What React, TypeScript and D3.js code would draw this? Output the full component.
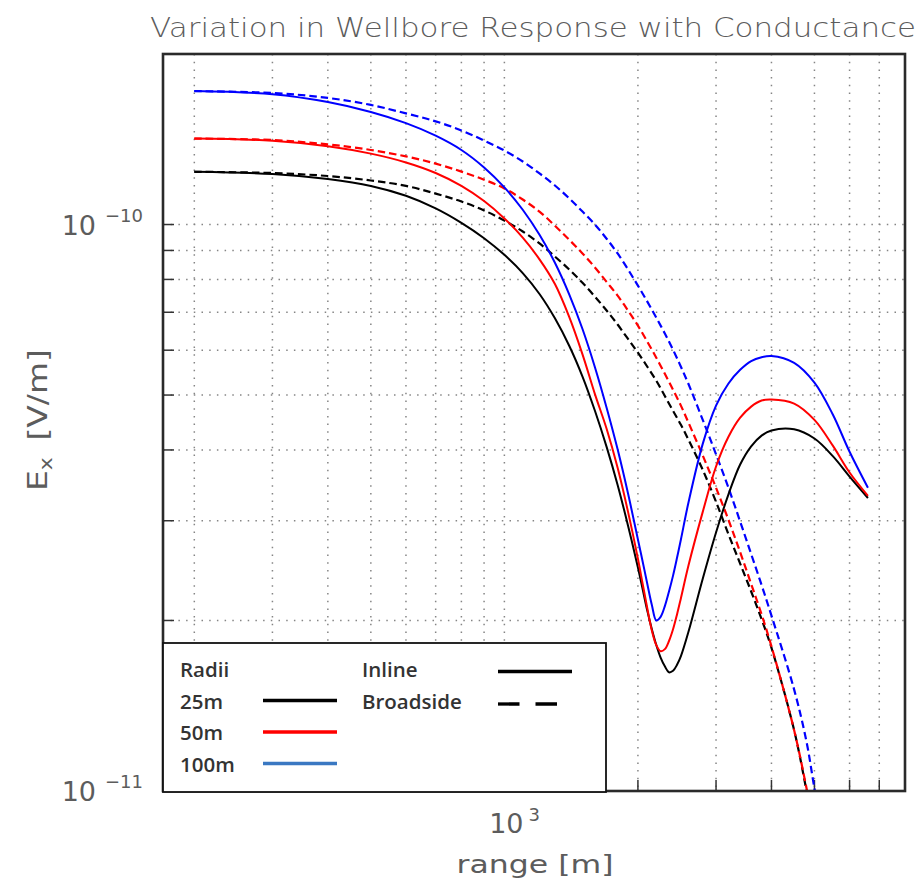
import React from 'react';
import * as d3 from 'd3';

// Source-receiver offsets (m) at which each profile is sampled
const INLINE_RANGE = [200, 300, 400, 500, 600, 700, 800, 900, 1000, 1100, 1200, 1300, 1400, 1500, 1600, 1700, 1800, 1900, 2000, 2050, 2100, 2150, 2200, 2250, 2300, 2350, 2400, 2450, 2500, 2600, 2800, 3000, 3200, 3400, 3600, 3800, 4000, 4500, 5000, 5500, 6000, 6600];
const BROADSIDE_RANGE = [200, 300, 400, 500, 600, 700, 800, 900, 1000, 1100, 1200, 1300, 1400, 1500, 1600, 1700, 1800, 1900, 2000, 2100, 2200, 2300, 2400, 2500, 2600, 2800, 3000, 3200, 3400, 3600, 3800, 4000, 4500, 4800, 5000, 5200];

// |Ex| amplitudes in units of 1e-11 V/m
const EX_UNIT = 1e-11;
const BLACK_INLINE = [12.39, 12.28, 12.03, 11.7, 11.24, 10.68, 10.07, 9.46, 8.84, 8.21, 7.54, 6.83, 6.11, 5.39, 4.69, 4.05, 3.47, 2.94, 2.48, 2.27, 2.08, 1.93, 1.81, 1.72, 1.66, 1.62, 1.63, 1.67, 1.73, 1.91, 2.37, 2.86, 3.34, 3.77, 4.06, 4.24, 4.33, 4.35, 4.19, 3.9, 3.59, 3.29];
const RED_INLINE = [14.18, 14.06, 13.75, 13.34, 12.87, 12.33, 11.7, 11.0, 10.25, 9.48, 8.68, 7.85, 6.87, 5.9, 5.02, 4.36, 3.72, 3.11, 2.57, 2.32, 2.1, 1.92, 1.81, 1.765, 1.78, 1.84, 1.93, 2.05, 2.19, 2.5, 3.11, 3.74, 4.22, 4.56, 4.77, 4.89, 4.91, 4.83, 4.52, 4.07, 3.65, 3.32];
const BLUE_INLINE = [17.2, 16.98, 16.45, 15.8, 15.1, 14.35, 13.54, 12.61, 11.63, 10.62, 9.59, 8.56, 7.53, 6.54, 5.6, 4.75, 4.01, 3.35, 2.78, 2.54, 2.32, 2.13, 2.0, 2.03, 2.12, 2.25, 2.4, 2.58, 2.78, 3.23, 4.1, 4.79, 5.24, 5.54, 5.74, 5.83, 5.86, 5.7, 5.26, 4.62, 3.97, 3.43];
const BLACK_BROADSIDE = [12.39, 12.33, 12.18, 11.96, 11.7, 11.34, 10.98, 10.59, 10.16, 9.72, 9.26, 8.78, 8.33, 7.89, 7.46, 7.05, 6.66, 6.28, 5.94, 5.61, 5.3, 4.98, 4.69, 4.43, 4.17, 3.69, 3.24, 2.84, 2.52, 2.25, 2.01, 1.79, 1.28, 1.0, 0.846, 0.719];
const RED_BROADSIDE = [14.18, 14.1, 13.85, 13.54, 13.19, 12.81, 12.4, 12.0, 11.58, 11.07, 10.54, 9.95, 9.4, 8.89, 8.4, 7.92, 7.49, 7.05, 6.63, 6.21, 5.82, 5.45, 5.11, 4.79, 4.47, 3.91, 3.43, 3.01, 2.64, 2.32, 2.05, 1.8, 1.28, 1.01, 0.854, 0.725];
const BLUE_BROADSIDE = [17.2, 17.07, 16.73, 16.26, 15.71, 15.21, 14.66, 14.07, 13.51, 12.92, 12.31, 11.72, 11.12, 10.54, 10.0, 9.44, 8.89, 8.33, 7.8, 7.31, 6.85, 6.42, 6.01, 5.61, 5.23, 4.52, 3.93, 3.43, 2.99, 2.62, 2.31, 2.04, 1.51, 1.22, 1.01, 0.854];

// Axes
const X_DOMAIN = [170, 8000];
const Y_DOMAIN = [1e-11, 2e-10];
const X_GRID = [200, 300, 400, 500, 600, 700, 800, 900, 1000, 2000, 3000, 4000, 5000, 6000, 7000];
const Y_GRID = [2e-11, 3e-11, 4e-11, 5e-11, 6e-11, 7e-11, 8e-11, 9e-11, 1e-10];
const X_TICK_LABELS = [{ value: 1000, base: '10', exp: '3' }];
const Y_TICK_LABELS = [
  { value: 1e-10, base: '10', exp: '\u221210' },
  { value: 1e-11, base: '10', exp: '\u221211' },
];

// Legend
const RADII = ['25m', '50m', '100m'];
const RADII_PLOT_COLORS = ['#000000', '#ff0000', '#0000ff'];
const RADII_KEY_COLORS = ['#000000', '#ff0000', '#3a78c2'];
const ORIENTATIONS = ['Inline', 'Broadside'];

const TITLE = 'Variation in Wellbore Response with Conductance';

const W = 924;
const H = 882;
const PLOT = { left: 163, right: 905, top: 54, bottom: 791 };

type Series = { range: number[]; values: number[]; color: string; dashed: boolean };

const SERIES: Series[] = [
  { range: BROADSIDE_RANGE, values: BLACK_BROADSIDE, color: RADII_PLOT_COLORS[0], dashed: true },
  { range: BROADSIDE_RANGE, values: RED_BROADSIDE, color: RADII_PLOT_COLORS[1], dashed: true },
  { range: BROADSIDE_RANGE, values: BLUE_BROADSIDE, color: RADII_PLOT_COLORS[2], dashed: true },
  { range: INLINE_RANGE, values: BLACK_INLINE, color: RADII_PLOT_COLORS[0], dashed: false },
  { range: INLINE_RANGE, values: RED_INLINE, color: RADII_PLOT_COLORS[1], dashed: false },
  { range: INLINE_RANGE, values: BLUE_INLINE, color: RADII_PLOT_COLORS[2], dashed: false },
];

const AXIS_FONT = '"DejaVu Sans", sans-serif';
const KEY_FONT = '"Open Sans", "Noto Sans", sans-serif';
const AXIS_INK = '#5c5c5c';

export default function App() {
  const x = d3.scaleLog().domain(X_DOMAIN).range([PLOT.left, PLOT.right]);
  const y = d3.scaleLog().domain(Y_DOMAIN).range([PLOT.bottom, PLOT.top]);

  const line = d3
    .line<[number, number]>()
    .x((d) => x(d[0]))
    .y((d) => y(d[1] * EX_UNIT))
    .curve(d3.curveCatmullRom.alpha(0.5));

  const legendBox = { x: 163, y: 643, w: 443, h: 149 };
  const rowY = [677, 708.5, 740, 771.5];

  return (
    <svg
      width={W}
      height={H}
      viewBox={`0 0 ${W} ${H}`}
      style={{ position: 'absolute', left: 0, top: 0, display: 'block', background: '#fff' }}
    >
      <defs>
        <clipPath id="plot-clip">
          <rect x={PLOT.left} y={PLOT.top} width={PLOT.right - PLOT.left} height={PLOT.bottom - PLOT.top} />
        </clipPath>
      </defs>
      <rect x={0} y={0} width={W} height={H} fill="#fff" />

      {/* title */}
      <text
        x={150}
        y={37}
        fontFamily={AXIS_FONT}
        fontSize={26}
        fontWeight={300}
        fill={AXIS_INK}
        textLength={766}
        lengthAdjust="spacingAndGlyphs"
      >
        {TITLE}
      </text>

      {/* grid */}
      <g stroke="#858585" strokeWidth={1.5} strokeDasharray="1.5 6.2" fill="none">
        {X_GRID.map((v) => (
          <line key={`gx${v}`} x1={x(v)} x2={x(v)} y1={PLOT.top} y2={PLOT.bottom} />
        ))}
        {Y_GRID.map((v) => (
          <line key={`gy${v}`} x1={PLOT.left} x2={PLOT.right} y1={y(v)} y2={y(v)} />
        ))}
      </g>

      {/* ticks */}
      <g stroke="#333" strokeWidth={1.5}>
        {Y_GRID.map((v) => (
          <line key={`ty${v}`} x1={PLOT.left} x2={PLOT.left + 11} y1={y(v)} y2={y(v)} />
        ))}
        {X_GRID.map((v) => (
          <line key={`tx${v}`} x1={x(v)} x2={x(v)} y1={PLOT.bottom} y2={PLOT.bottom - 11} />
        ))}
      </g>

      {/* curves */}
      <g clipPath="url(#plot-clip)" fill="none">
        {SERIES.map((s, i) => (
          <path
            key={i}
            d={line(s.range.map((r, k) => [r, s.values[k]] as [number, number])) || ''}
            stroke={s.color}
            strokeWidth={s.dashed ? 2.2 : 2}
            strokeDasharray={s.dashed ? '7.5 4' : undefined}
            strokeLinejoin="round"
          />
        ))}
      </g>

      {/* frame */}
      <rect
        x={PLOT.left}
        y={PLOT.top}
        width={PLOT.right - PLOT.left}
        height={PLOT.bottom - PLOT.top}
        fill="none"
        stroke="#2a2a2a"
        strokeWidth={2.6}
      />

      {/* tick labels */}
      {X_TICK_LABELS.map((t) => (
        <g key={`xl${t.value}`} fontFamily={AXIS_FONT} fill={AXIS_INK}>
          <text x={x(t.value) + 2} y={833} fontSize={27} textAnchor="middle">
            {t.base}
          </text>
          <text x={x(t.value) + 24} y={821} fontSize={18} textAnchor="start">
            {t.exp}
          </text>
        </g>
      ))}
      {Y_TICK_LABELS.map((t) => (
        <g key={`yl${t.value}`} fontFamily={AXIS_FONT} fill={AXIS_INK}>
          <text x={96} y={y(t.value) + 10} fontSize={27} textAnchor="end">
            {t.base}
          </text>
          <text x={143} y={y(t.value) - 3} fontSize={18} textAnchor="end">
            {t.exp}
          </text>
        </g>
      ))}

      {/* axis titles */}
      <text
        x={535}
        y={873}
        fontFamily={AXIS_FONT}
        fontSize={25}
        fill={AXIS_INK}
        textAnchor="middle"
        textLength={157}
        lengthAdjust="spacingAndGlyphs"
      >
        {'range  [m]'}
      </text>
      <g transform="translate(47, 491) rotate(-90)" fontFamily={AXIS_FONT} fill={AXIS_INK}>
        <text x={0} y={0} fontSize={27} textAnchor="start" textLength={142} lengthAdjust="spacingAndGlyphs">
          <tspan>E</tspan>
          <tspan fontSize={18} dy={5}>x</tspan>
          <tspan dy={-5}>{'\u2002[V/m]'}</tspan>
        </text>
      </g>

      {/* legend */}
      <g>
        <rect
          x={legendBox.x}
          y={legendBox.y}
          width={legendBox.w}
          height={legendBox.h}
          fill="#fff"
          stroke="#111"
          strokeWidth={1.8}
        />
        <g fontFamily={KEY_FONT} fontSize={20.5} fontWeight={600} fill="#333">
          <text x={180} y={rowY[0]}>Radii</text>
          {RADII.map((r, i) => (
            <text key={r} x={180} y={rowY[i + 1]}>
              {r}
            </text>
          ))}
          {ORIENTATIONS.map((o, i) => (
            <text key={o} x={362} y={rowY[i]}>
              {o}
            </text>
          ))}
        </g>
        {RADII.map((r, i) => (
          <line
            key={`k${r}`}
            x1={263}
            x2={337}
            y1={rowY[i + 1] - 8}
            y2={rowY[i + 1] - 8}
            stroke={RADII_KEY_COLORS[i]}
            strokeWidth={3.3}
          />
        ))}
        <line x1={498} x2={572} y1={671.5} y2={671.5} stroke="#000" strokeWidth={3.3} />
        <line x1={498} x2={557} y1={704} y2={704} stroke="#000" strokeWidth={3.3} strokeDasharray="21.5 16" />
      </g>
    </svg>
  );
}
